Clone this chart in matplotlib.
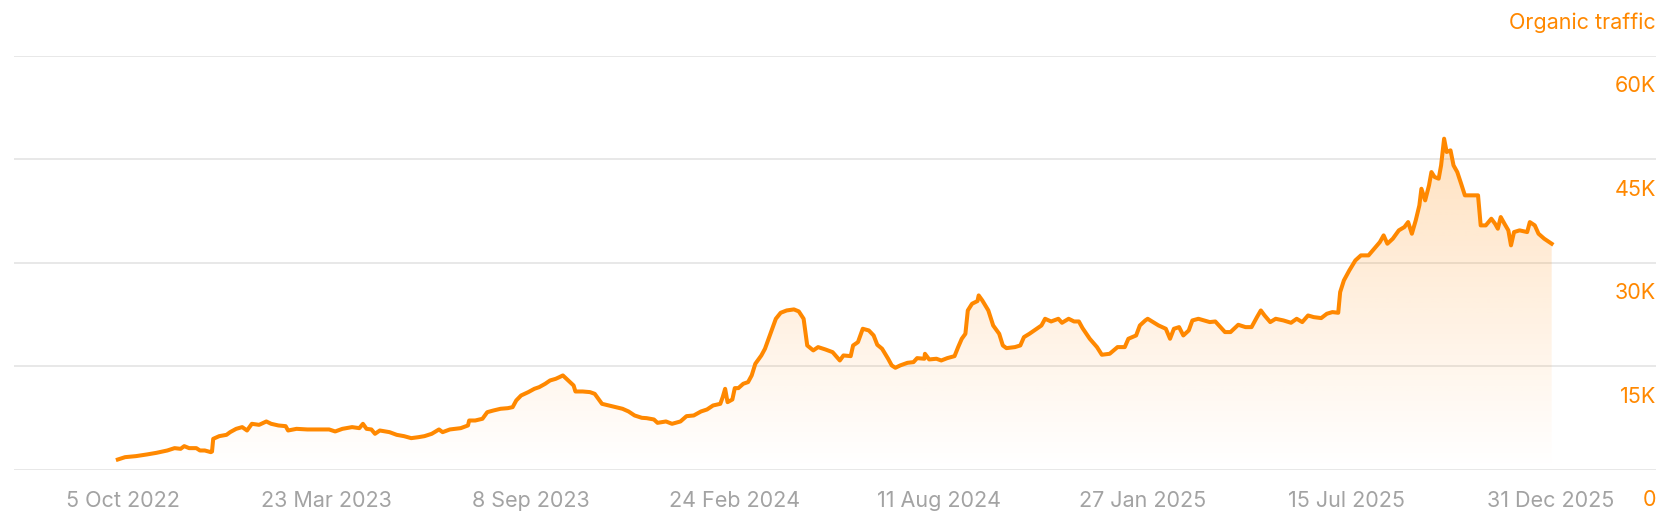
import numpy as np
import pandas as pd
import matplotlib
matplotlib.use('Agg')
import matplotlib.pyplot as plt
import matplotlib.dates as mdates

plt.rcParams['font.family'] = ['Inter', 'DejaVu Sans']

# datos: dias desde 5 Oct 2022 y trafico organico
start = '2022-10-05'
day_offset = [-4, 2, 11, 20, 28, 37, 43, 48, 51, 55, 61, 64, 68, 73, 74, 75, 80, 86, 89, 94,
              99, 103, 107, 113, 119, 123, 129, 135, 137, 144, 153, 162, 171, 176, 182, 190, 196, 199, 202, 206,
              209, 213, 221, 227, 233, 239, 245, 250, 256, 262, 265, 271, 280, 286, 287, 292, 298, 302, 307, 313,
              319, 323, 326, 330, 336, 341, 345, 350, 354, 358.7, 361.7, 364.6, 369, 373.5, 375, 381, 387, 391, 394, 397,
              405, 414, 419, 424, 430, 434, 440, 443, 450, 455, 462, 467, 473, 479, 484, 489, 495, 497, 499, 501,
              505, 507, 510, 514, 518, 521, 524, 529, 532, 535, 538, 541, 545, 550, 556, 560, 564, 567, 572, 576,
              582, 588, 594, 597, 603, 605, 609, 613, 618, 622, 625, 629, 634, 637, 640, 644, 650, 655, 658, 664,
              664.5, 668, 674, 678, 683, 689, 692, 695, 698, 700, 703.5, 708, 709, 712, 717, 721, 726, 729, 732, 739,
              743.5, 746.5, 751, 757, 761, 764, 769, 775, 778, 783.5, 788, 792, 795, 801, 807, 811, 817.5, 824, 830, 833,
              839.4, 842.5, 847, 849, 853.5, 858, 864, 867.5, 870.7, 875, 878.5, 883, 886, 891, 895.7, 900.4, 905, 908, 913, 917.6,
              924, 930, 935, 939.5, 942.7, 945.8, 950.5, 955, 961.4, 967.7, 972.4, 977, 981.8, 986.5, 992.7, 997.4, 1002, 1006.8, 1008.4, 1011.5,
              1016, 1021, 1025.6, 1031.9, 1036.6, 1041.3, 1044.4, 1047.5, 1052, 1057, 1061.6, 1064.7, 1067.8, 1071, 1074, 1075.7, 1078.8, 1082, 1084, 1086.6,
              1090, 1092, 1094.5, 1096.6, 1099.8, 1102.3, 1105.4, 1108.6, 1111.7, 1116.4, 1122.6, 1124.8, 1129, 1133.6, 1136.7, 1139, 1141.4, 1144.5, 1147.7, 1149.9,
              1152.4, 1157, 1163.3, 1165.5, 1169.6, 1172.7, 1177.4, 1183.6]
traffic = [1450, 1790, 1940, 2180, 2420, 2760, 3100, 3000, 3390, 3100, 3100, 2760, 2760, 2520, 2600, 4450, 4840, 5030, 5420, 5900,
           6150, 5660, 6630, 6480, 6970, 6630, 6390, 6290, 5660, 5900, 5810, 5810, 5810, 5520, 5900, 6150, 6000, 6630, 5900, 5810,
           5180, 5660, 5420, 5030, 4840, 4550, 4690, 4840, 5180, 5810, 5420, 5810, 6000, 6390, 7110, 7110, 7360, 8320, 8560, 8810,
           8900, 9050, 10020, 10740, 11230, 11710, 11950, 12440, 12920, 13160, 13400, 13650, 12920, 12190, 11320, 11320, 11230, 10980, 10260, 9530,
           9190, 8810, 8420, 7840, 7500, 7450, 7260, 6770, 6970, 6630, 6970, 7740, 7840, 8420, 8710, 9290, 9530, 10500, 11710, 9770,
           10160, 11810, 11810, 12440, 12680, 13650, 15340, 16550, 17520, 18970, 20420, 21870, 22740, 23080, 23230, 22940, 21870, 18000, 17280, 17760,
           17420, 17030, 15820, 16550, 16450, 18000, 18480, 20420, 20180, 19450, 18100, 17520, 16070, 15100, 14760, 15100, 15480, 15580, 16160, 16070,
           16790, 15970, 16070, 15820, 16160, 16450, 17760, 18970, 19690, 23080, 24050, 24440, 25260, 24530, 23080, 20900, 19690, 18000, 17610, 17760,
           18000, 19210, 19690, 20420, 20900, 21870, 21480, 21870, 21290, 21870, 21480, 21480, 20520, 18970, 17760, 16650, 16790, 17760, 17760, 18970,
           19450, 20900, 21630, 21870, 21390, 20900, 20420, 18970, 20420, 20660, 19450, 20180, 21630, 21870, 21630, 21390, 21480, 20900, 19940, 19940,
           21000, 20660, 20660, 22110, 23080, 22350, 21390, 21870, 21630, 21290, 21870, 21390, 22350, 22110, 21970, 22600, 22840, 22740, 25740, 27440,
           28890, 30340, 31070, 31070, 32030, 33000, 33970, 32760, 33490, 34700, 35180, 35900, 34210, 36150, 38320, 40740, 39050, 41230, 43160, 42440,
           42200, 44130, 48000, 46070, 46310, 44130, 43160, 41470, 39780, 39780, 39780, 35420, 35420, 36390, 35660, 34940, 36630, 35660, 34700, 32520,
           34450, 34700, 34450, 35900, 35420, 34210, 33490, 32760]

tick_dates = ['2022-10-05', '2023-03-23', '2023-09-08', '2024-02-24',
              '2024-08-11', '2025-01-27', '2025-07-15', '2025-12-31']
tick_labels = ['5 Oct 2022', '23 Mar 2023', '8 Sep 2023', '24 Feb 2024',
               '11 Aug 2024', '27 Jan 2025', '15 Jul 2025', '31 Dec 2025']
y_ticks = [0, 15000, 30000, 45000, 60000]
y_labels = ['0', '15K', '30K', '45K', '60K']

naranja = '#ff8800'
gris = '#a3a3a3'
fs = 15.5

base = pd.Timestamp(start)
fechas = base + pd.to_timedelta(np.array(day_offset), unit='D')
x = mdates.date2num(fechas.to_pydatetime())
y = np.array(traffic, dtype=float)

fig = plt.figure(figsize=(16.72, 5.30), dpi=100)
ax = fig.add_axes([14 / 1672, 60.5 / 530, 1642 / 1672, 413.5 / 530])

x_min = mdates.date2num(base - pd.Timedelta(days=90))
x_max = mdates.date2num(base + pd.Timedelta(days=1270))
ax.set_xlim(x_min, x_max)
ax.set_ylim(0, 60000)

# relleno con degradado
poly = ax.fill_between(x, y, 0, facecolor='none', edgecolor='none')
ymax = y.max()
grad = np.zeros((256, 2, 4))
grad[:, :, 0] = 1.0
grad[:, :, 1] = 136 / 255
grad[:, :, 2] = 0.0
grad[:, :, 3] = np.linspace(0, 0.25, 256)[:, None]
im = ax.imshow(grad, extent=[x.min(), x.max(), 0, ymax], origin='lower',
               aspect='auto', zorder=2, interpolation='bilinear')
im.set_clip_path(poly.get_paths()[0], transform=ax.transData)

ax.plot(x, y, color=naranja, lw=2.9, zorder=3, solid_joinstyle='round')

ax.set_yticks(y_ticks)
ax.set_yticklabels([])
ax.grid(axis='y', color='#e6e6e6', lw=1.3, zorder=0)
ax.set_axisbelow(True)
ax.tick_params(axis='y', length=0)
for s in ax.spines.values():
    s.set_visible(False)

ax.set_xticks(mdates.date2num(pd.to_datetime(tick_dates).to_pydatetime()))
ax.set_xticklabels(tick_labels, color=gris, fontsize=fs, va='center')
ax.tick_params(axis='x', length=0, pad=23)

# etiquetas del eje y, debajo de cada linea
for v, lab in zip(y_ticks, y_labels):
    ax.text(x_max, v - 4425, lab, color=naranja, fontsize=fs,
            ha='right', va='center', clip_on=False)
ax.text(x_max, 64790, 'Organic traffic', color=naranja, fontsize=fs,
        ha='right', va='center', clip_on=False)

fig.savefig('out.png', dpi=100)
